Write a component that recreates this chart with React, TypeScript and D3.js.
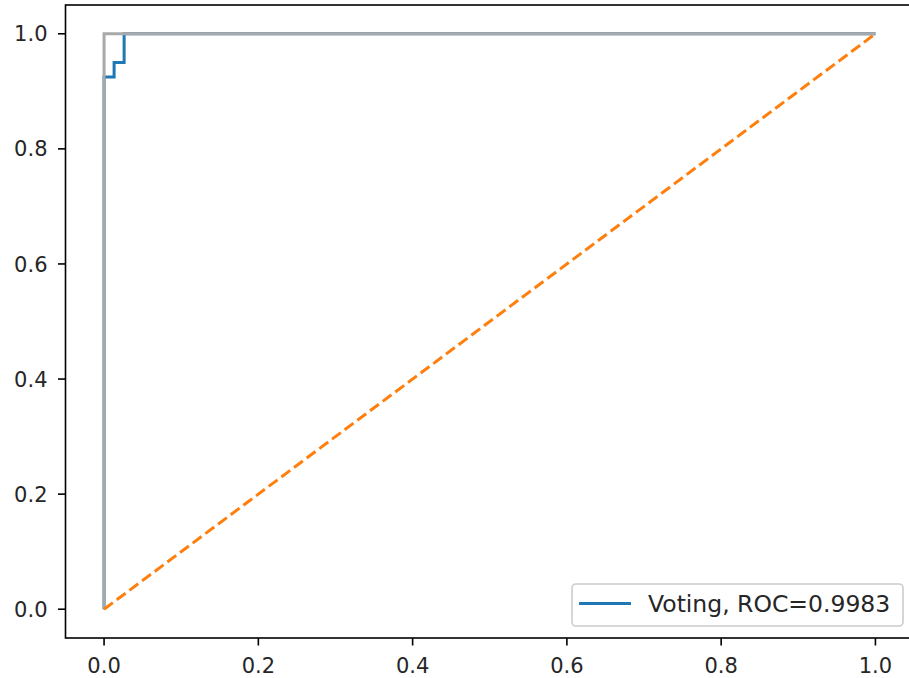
import React from "react";
import * as d3 from "d3";

const W = 909;
const H = 678;

// ROC curve points (Voting classifier)
const rocFpr = [0, 0, 0.013, 0.013, 0.026, 0.026, 1];
const rocTpr = [0, 0.925, 0.925, 0.95, 0.95, 1, 1];
// Perfect classifier reference line
const perfFpr = [0, 0, 1];
const perfTpr = [0, 1, 1];
// Random classifier diagonal
const diagFpr = [0, 1];
const diagTpr = [0, 1];

const xTicks = [0, 0.2, 0.4, 0.6, 0.8, 1.0];
const yTicks = [0, 0.2, 0.4, 0.6, 0.8, 1.0];
const legendLabel = "Voting, ROC=0.9983";

export default function App() {
  const left = 65.5, right = 914, top = 5, bottom = 638;
  const x = d3.scaleLinear().domain([-0.05, 1.05]).range([left, right]);
  const y = d3.scaleLinear().domain([-0.05, 1.05]).range([bottom, top]);
  const line = d3
    .line<[number, number]>()
    .x((d) => x(d[0]))
    .y((d) => y(d[1]));
  const zip = (a: number[], b: number[]) => a.map((v, i) => [v, b[i]] as [number, number]);
  const font = "DejaVu Sans, sans-serif";
  const fs = 21;
  const legFs = 23.5;

  const legW = 331, legH = 42;
  const legX = right - 11 - legW;
  const legY = bottom - 12 - legH;

  return (
    <svg
      width={W}
      height={H}
      style={{ position: "absolute", left: 0, top: 0, background: "#fff" }}
      fontFamily={font}
    >
      <rect x={0} y={0} width={W} height={H} fill="#fff" />
      <path d={line(zip(rocFpr, rocTpr)) || ""} fill="none" stroke="#1f77b4" strokeWidth={3} />
      <path d={line(zip(perfFpr, perfTpr)) || ""} fill="none" stroke="#a9a9a9" strokeWidth={3} />
      <path
        d={line(zip(diagFpr, diagTpr)) || ""}
        fill="none"
        stroke="#ff7f0e"
        strokeWidth={3}
        strokeDasharray="11,4.8"
      />
      {/* spines */}
      <rect x={left} y={top} width={right - left} height={bottom - top} fill="none" stroke="#000" strokeWidth={1.6} />
      {/* x ticks */}
      {xTicks.map((t) => (
        <g key={"x" + t}>
          <line x1={x(t)} x2={x(t)} y1={bottom} y2={bottom + 7.5} stroke="#000" strokeWidth={1.6} />
          <text x={x(t)} y={bottom + 35} textAnchor="middle" fontSize={fs} fill="#262626">
            {t.toFixed(1)}
          </text>
        </g>
      ))}
      {yTicks.map((t) => (
        <g key={"y" + t}>
          <line x1={left} x2={left - 7.5} y1={y(t)} y2={y(t)} stroke="#000" strokeWidth={1.6} />
          <text x={left - 18} y={y(t)} dy="0.36em" textAnchor="end" fontSize={fs} fill="#262626">
            {t.toFixed(1)}
          </text>
        </g>
      ))}
      {/* legend */}
      <rect
        x={legX}
        y={legY}
        width={legW}
        height={legH}
        rx={4}
        ry={4}
        fill="#fff"
        fillOpacity={0.8}
        stroke="#cccccc"
        strokeWidth={1.6}
      />
      <line x1={legX + 7} x2={legX + 59} y1={legY + 19.5} y2={legY + 19.5} stroke="#1f77b4" strokeWidth={3} />
      <text x={legX + 76} y={legY + 19.5} dy="0.36em" fontSize={legFs} fill="#262626">
        {legendLabel}
      </text>
    </svg>
  );
}
